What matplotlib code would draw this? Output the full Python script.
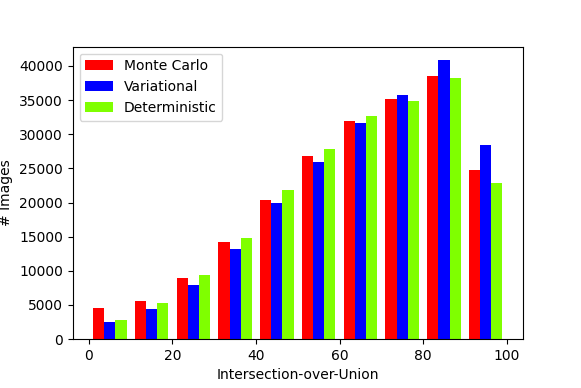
import numpy as np
import matplotlib
matplotlib.use("Agg")
import matplotlib.pyplot as plt

# IoU histogram counts, bins of width 10 from 0 to 100
bin_edges = [0, 10, 20, 30, 40, 50, 60, 70, 80, 90, 100]
monte_carlo = [4550, 5570, 8890, 14200, 20400, 26850, 31950, 35100, 38500, 24700]
variational = [2540, 4400, 7900, 13200, 19950, 26000, 31700, 35700, 40800, 28400]
deterministic = [2830, 5230, 9430, 14800, 21900, 27850, 32600, 34800, 38300, 22800]
labels = ['Monte Carlo', 'Variational', 'Deterministic']
colors = ['#ff0000', '#0000ff', '#7fff00']

centers = [(a + b) / 2 for a, b in zip(bin_edges[:-1], bin_edges[1:])]

fig, ax = plt.subplots(figsize=(5.81, 3.88), dpi=100)
fig.subplots_adjust(left=0.125, right=0.9, top=0.88, bottom=0.126)

ax.hist([centers, centers, centers], bins=bin_edges,
        weights=[monte_carlo, variational, deterministic],
        color=colors, label=labels)

ax.set_xlabel('Intersection-over-Union')
ax.set_ylabel('# Images')
ax.legend(loc='upper left')

fig.savefig('out.png', dpi=100)
